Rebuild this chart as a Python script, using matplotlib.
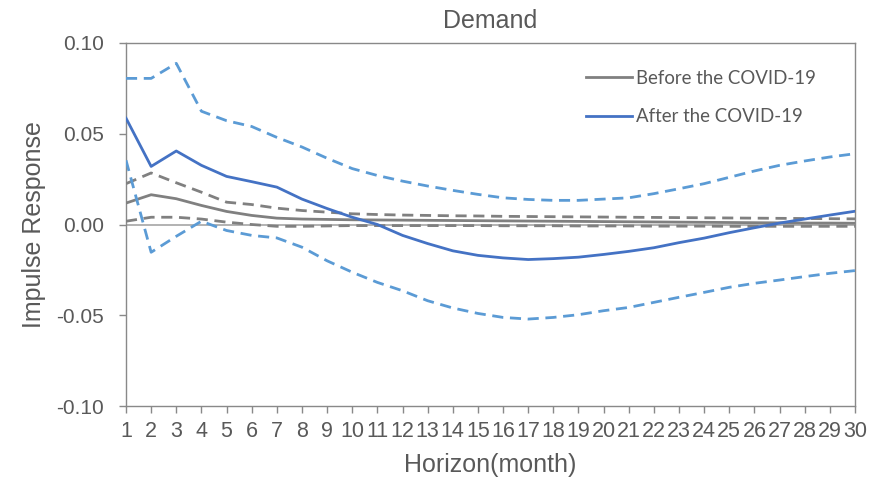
import matplotlib
matplotlib.use("Agg")
import matplotlib.pyplot as plt

horizon = list(range(1, 31))

after_mean = [0.0586, 0.032, 0.0405, 0.0326, 0.0265, 0.0236, 0.0206, 0.014, 0.0088, 0.0040,
              0.0, -0.006, -0.0105, -0.0145, -0.017, -0.0184, -0.0193, -0.0188, -0.0180, -0.0165,
              -0.0148, -0.0128, -0.0100, -0.0075, -0.0045, -0.0018, 0.0008, 0.0030, 0.0052, 0.0073]
after_upper = [0.0805, 0.0805, 0.0888, 0.0624, 0.0572, 0.054, 0.048, 0.0427, 0.0365, 0.0308,
               0.027, 0.0239, 0.0212, 0.0188, 0.0166, 0.0147, 0.0138, 0.0133, 0.0133, 0.014,
               0.0147, 0.017, 0.0197, 0.0225, 0.026, 0.0295, 0.0326, 0.035, 0.0372, 0.039]
after_lower = [0.0354, -0.0153, -0.0065, 0.0018, -0.0033, -0.006, -0.0074, -0.0125, -0.020, -0.0263,
               -0.0319, -0.0365, -0.042, -0.046, -0.049, -0.0512, -0.0521, -0.0512, -0.0497, -0.0475,
               -0.0457, -0.0429, -0.0401, -0.0374, -0.0346, -0.0324, -0.0306, -0.0287, -0.0269, -0.0254]
before_mean = [0.0118, 0.0164, 0.0142, 0.0105, 0.0072, 0.005, 0.0035, 0.003, 0.0028, 0.0026,
               0.0025, 0.0024, 0.0023, 0.0022, 0.0021, 0.0020, 0.0019, 0.0018, 0.0017, 0.0016,
               0.0015, 0.0014, 0.0013, 0.0012, 0.0011, 0.0010, 0.0009, 0.0008, 0.0008, 0.0007]
before_upper = [0.0225, 0.0284, 0.023, 0.0178, 0.0123, 0.011, 0.009, 0.0077, 0.0068, 0.0059,
                0.0055, 0.0052, 0.0050, 0.0048, 0.0047, 0.0045, 0.0044, 0.0043, 0.0042, 0.0041,
                0.0040, 0.0039, 0.0038, 0.0037, 0.0036, 0.0035, 0.0034, 0.0033, 0.0032, 0.0031]
before_lower = [0.0018, 0.004, 0.004, 0.003, 0.0013, 0.0, -0.001, -0.001, -0.0008, -0.0006,
                -0.0006, -0.0006, -0.0006, -0.0006, -0.0006, -0.0007, -0.0007, -0.0007, -0.0008, -0.0008,
                -0.0008, -0.0009, -0.0009, -0.0009, -0.0010, -0.0010, -0.0010, -0.0010, -0.0010, -0.0010]

yticks = [-0.10, -0.05, 0.00, 0.05, 0.10]
ytick_labels = ["-0.10", "-0.05", "0.00", "0.05", "0.10"]

GREY = "#808080"
BLUE = "#4472C4"
LBLUE = "#5B9BD5"
AX = "#898989"
TXT = "#595959"

plt.rcParams['font.family'] = ['Liberation Sans', 'DejaVu Sans']

fig = plt.figure(figsize=(8.79, 4.82), dpi=100)
ax = fig.add_axes([126/879, 1-406/482, (855-126)/879, (406-43)/482])

ax.axhline(0, color="#A6A6A6", lw=1.2, zorder=1)

lw = 2.0
dash = (4.0, 2.4)
ax.plot(horizon, before_upper, color=GREY, lw=lw, dashes=dash, zorder=3)
ax.plot(horizon, before_lower, color=GREY, lw=lw, dashes=dash, zorder=3)
ax.plot(horizon, before_mean, color=GREY, lw=lw, zorder=3, label="Before the COVID-19")
ax.plot(horizon, after_upper, color=LBLUE, lw=lw, dashes=dash, zorder=4)
ax.plot(horizon, after_lower, color=LBLUE, lw=lw, dashes=dash, zorder=4)
ax.plot(horizon, after_mean, color=BLUE, lw=lw, zorder=5, label="After the COVID-19")

ax.set_xlim(1, 30)
ax.set_ylim(-0.10, 0.10)
ax.set_xticks(horizon)
ax.set_xticklabels([str(h) for h in horizon])
ax.set_yticks(yticks)
ax.set_yticklabels(ytick_labels)

for s in ax.spines.values():
    s.set_color(AX)
    s.set_linewidth(1.0)

ax.tick_params(axis='x', direction='out', length=5, width=1, color=AX, pad=6,
               labelsize=15.5, labelcolor=TXT)
ax.tick_params(axis='y', direction='out', length=5, width=1, color=AX, pad=11,
               labelsize=15, labelcolor=TXT)

ax.set_title("Demand", fontsize=18, color=TXT, pad=11)
ax.set_xlabel("Horizon(month)", fontsize=18, color=TXT, labelpad=8)
ax.set_ylabel("Impulse Response", fontsize=18, color=TXT, labelpad=7)

leg = ax.legend(loc="upper left", bbox_to_anchor=((569-126)/729, 1-(53-43)/363), frameon=False,
                handlelength=2.5, handletextpad=0.2, labelspacing=1.15,
                prop={'family': ['Lato', 'DejaVu Sans'], 'size': 13.4})
for t in leg.get_texts():
    t.set_color(TXT)

fig.savefig("out.png", dpi=100)
